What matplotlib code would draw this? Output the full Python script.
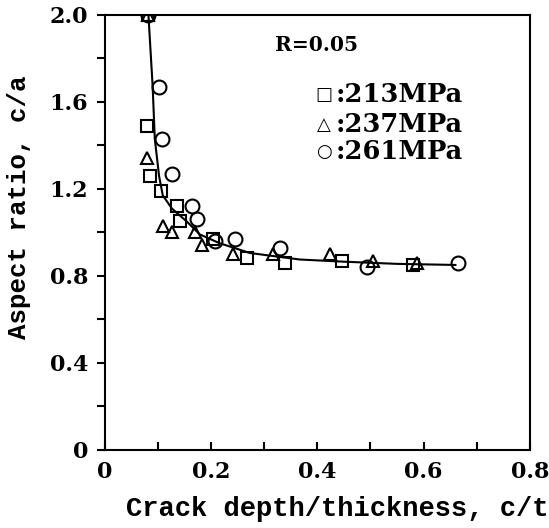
import matplotlib
matplotlib.use("Agg")
import matplotlib.pyplot as plt
from matplotlib.ticker import MultipleLocator

# data (c/t, c/a)
x_213 = [0.081, 0.079, 0.085, 0.105, 0.135, 0.141, 0.204, 0.267, 0.339, 0.446, 0.580]
y_213 = [2.00, 1.49, 1.26, 1.19, 1.12, 1.05, 0.97, 0.88, 0.86, 0.87, 0.85]

x_237 = [0.081, 0.079, 0.109, 0.126, 0.170, 0.183, 0.241, 0.316, 0.424, 0.505, 0.587]
y_237 = [2.00, 1.34, 1.03, 1.00, 1.00, 0.94, 0.90, 0.90, 0.90, 0.87, 0.86]

x_261 = [0.081, 0.102, 0.107, 0.126, 0.164, 0.173, 0.207, 0.245, 0.329, 0.493, 0.665]
y_261 = [2.00, 1.67, 1.43, 1.27, 1.12, 1.06, 0.96, 0.97, 0.93, 0.84, 0.86]

# fitted curve
fit_x = [0.082, 0.090, 0.094, 0.102, 0.109, 0.126, 0.154, 0.179, 0.216, 0.273, 0.367, 0.45, 0.55, 0.66]
fit_y = [2.00, 1.67, 1.43, 1.26, 1.17, 1.11, 1.05, 0.99, 0.95, 0.905, 0.875, 0.865, 0.855, 0.85]

xticks = [0, 0.2, 0.4, 0.6, 0.8]
xtick_labels = ["0", "0.2", "0.4", "0.6", "0.8"]
yticks = [0, 0.4, 0.8, 1.2, 1.6, 2.0]
ytick_labels = ["0", "0.4", "0.8", "1.2", "1.6", "2.0"]

legend_syms = ["\u25a1", "\u25b3", "\u25cb"]
legend_labels = [":213MPa", ":237MPa", ":261MPa"]

fig = plt.figure(figsize=(5.49, 5.28), dpi=100)
ax = fig.add_axes([0.191, 0.148, 0.774, 0.824])

ax.plot(fit_x, fit_y, color="black", linewidth=1.5, zorder=2)
mk = dict(linestyle="none", markerfacecolor="none", markeredgecolor="black",
          markeredgewidth=1.5, zorder=3)
ax.plot(x_213, y_213, marker="s", markersize=8.5, **mk)
ax.plot(x_237, y_237, marker="^", markersize=9, **mk)
ax.plot(x_261, y_261, marker="o", markersize=10, **mk)

ax.set_xlim(0, 0.8)
ax.set_ylim(0, 2.0)
ax.set_xticks(xticks)
ax.set_xticklabels(xtick_labels)
ax.set_yticks(yticks)
ax.set_yticklabels(ytick_labels)
ax.xaxis.set_minor_locator(MultipleLocator(0.1))
ax.yaxis.set_minor_locator(MultipleLocator(0.2))

for lab in ax.get_xticklabels() + ax.get_yticklabels():
    lab.set_fontfamily("DejaVu Serif")
    lab.set_fontweight("bold")
    lab.set_fontsize(16)

ax.tick_params(axis="x", which="both", direction="in", length=6, width=1.5, pad=8)
ax.tick_params(axis="y", which="both", direction="out", length=6, width=1.5, pad=6)
for s in ax.spines.values():
    s.set_linewidth(1.5)

ax.set_xlabel("Crack depth/thickness, c/t", family="Liberation Mono",
              weight="bold", size=19.5)
ax.set_ylabel("Aspect ratio, c/a", family="Liberation Mono",
              weight="bold", size=18.5)
ax.xaxis.set_label_coords(0.546, -0.105)
ax.yaxis.set_label_coords(-0.174, 0.557)

ax.text(0.40, 0.931, "R=0.05", transform=ax.transAxes, fontsize=14.5,
        family="DejaVu Serif", weight="semibold", va="center")
leg_y = [0.816, 0.747, 0.685]
for yy, sym, tt in zip(leg_y, legend_syms, legend_labels):
    ax.text(0.515, yy, sym, transform=ax.transAxes, fontsize=13,
            family="DejaVu Sans", ha="center", va="center")
    ax.text(0.543, yy, tt, transform=ax.transAxes, fontsize=18.5,
            family="DejaVu Serif", weight="bold", va="center")

fig.savefig("out.png", dpi=100)
